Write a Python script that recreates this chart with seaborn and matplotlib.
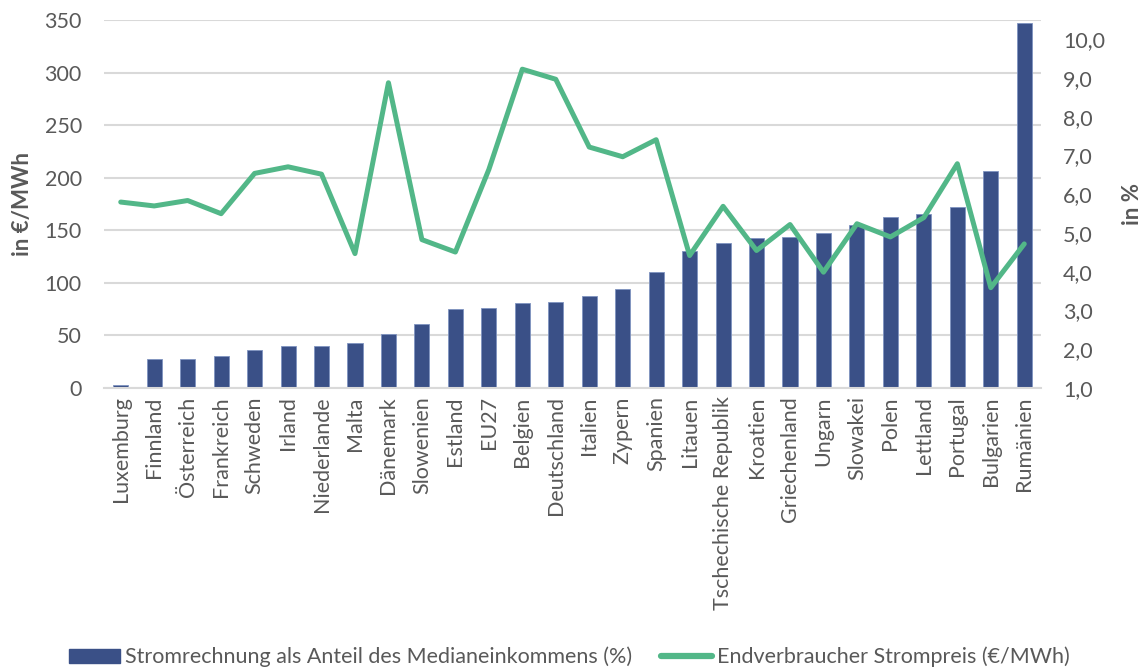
import numpy as np
import pandas as pd
import matplotlib
matplotlib.use("Agg")
import matplotlib.pyplot as plt
import seaborn as sns
from matplotlib.lines import Line2D
from matplotlib.patches import Patch
from matplotlib.ticker import FuncFormatter, MultipleLocator

countries = ["Luxemburg", "Finnland", "Österreich", "Frankreich", "Schweden", "Irland",
             "Niederlande", "Malta", "Dänemark", "Slowenien", "Estland", "EU27", "Belgien",
             "Deutschland", "Italien", "Zypern", "Spanien", "Litauen", "Tschechische Republik",
             "Kroatien", "Griechenland", "Ungarn", "Slowakei", "Polen", "Lettland", "Portugal",
             "Bulgarien", "Rumänien"]
bar_values = [3.2, 27.6, 28.0, 30.8, 36.2, 40.3, 40.3, 42.6, 51.8, 60.7, 75.3, 76.5, 81.0,
              82.2, 87.6, 94.0, 109.9, 130.5, 138.0, 142.9, 143.5, 147.3, 154.7, 162.6,
              165.1, 172.4, 206.7, 346.8]
line_values = [5.80, 5.70, 5.84, 5.50, 6.54, 6.71, 6.52, 4.47, 8.88, 4.83, 4.51, 6.64, 9.23,
               8.97, 7.22, 6.97, 7.41, 4.42, 5.69, 4.55, 5.22, 3.99, 5.24, 4.90, 5.40, 6.79,
               3.59, 4.72]
bar_label = "Stromrechnung als Anteil des Medianeinkommens (%)"
line_label = "Endverbraucher Strompreis (€/MWh)"

n = len(countries)

sns.set_theme(style="white")
plt.rcParams['font.family'] = ['Lato', 'DejaVu Sans']

BAR_COLOR = "#3A5087"
LINE_COLOR = "#52B788"
TEXT_COLOR = "#595959"
GRID_COLOR = "#D9D9D9"
FS = 15.5

fig = plt.figure(figsize=(11.45, 6.72), dpi=100)
ax = fig.add_axes([104 / 1145, 1 - 388 / 672, (1041 - 104) / 1145, (388 - 20) / 672])

df = pd.DataFrame({"country": countries, "value": bar_values, "pct": line_values})
sns.barplot(data=df, x="country", y="value", color=BAR_COLOR, width=0.45,
            saturation=1, edgecolor="#7F93C0", linewidth=0.6, ax=ax)

ax.set_ylim(0, 350)
ax.set_xlim(-0.5, n - 0.5)
ax.yaxis.set_major_locator(MultipleLocator(50))
ax.grid(axis="y", color=GRID_COLOR, linewidth=1.5)
ax.set_axisbelow(True)
for s in ["top", "right", "left"]:
    ax.spines[s].set_visible(False)
ax.spines["bottom"].set_color(GRID_COLOR)
ax.spines["bottom"].set_linewidth(1.5)
ax.tick_params(axis="y", length=0, labelsize=FS, colors=TEXT_COLOR, pad=16)
ax.tick_params(axis="x", length=0, labelsize=FS, colors=TEXT_COLOR, pad=6)
ax.set_xticks(range(n))
ax.set_xticklabels(countries, rotation=90, fontsize=FS, color=TEXT_COLOR)
ax.set_xlabel("")
ax.set_ylabel("in €/MWh", fontsize=16, fontweight="bold", color=TEXT_COLOR)
ax.yaxis.set_label_coords(-0.076, 0.5)

ax2 = ax.twinx()
sns.lineplot(x=np.arange(n), y=df["pct"], color=LINE_COLOR, linewidth=3.6, ax=ax2,
             sort=False, legend=False)
for ln in ax2.get_lines():
    ln.set_solid_joinstyle("round")
    ln.set_solid_capstyle("round")
ax2.set_ylim(1.0, 10.5)
ax2.set_xlim(-0.5, n - 0.5)
ax2.set_yticks(np.arange(1, 11, 1.0))
ax2.yaxis.set_major_formatter(FuncFormatter(lambda v, p: f"{v:.1f}".replace(".", ",")))
ax2.tick_params(axis="y", length=0, labelsize=FS, colors=TEXT_COLOR, pad=16)
for s in ["top", "right", "left", "bottom"]:
    ax2.spines[s].set_visible(False)
ax2.grid(False)
ax2.set_ylabel("in %", fontsize=16, fontweight="bold", color=TEXT_COLOR)
ax2.yaxis.set_label_coords(1.086, 0.5)

handles = [Patch(facecolor=BAR_COLOR, edgecolor=BAR_COLOR),
           Line2D([0], [0], color=LINE_COLOR, linewidth=4.5, solid_capstyle="round")]
fig.legend(handles, [bar_label, line_label], loc="lower center", ncol=2,
           bbox_to_anchor=(0.497, -0.022), frameon=False, fontsize=FS,
           labelcolor=TEXT_COLOR, handlelength=2.4, handleheight=0.65,
           handletextpad=0.2, columnspacing=1.35)

fig.savefig("out.png", dpi=100)
